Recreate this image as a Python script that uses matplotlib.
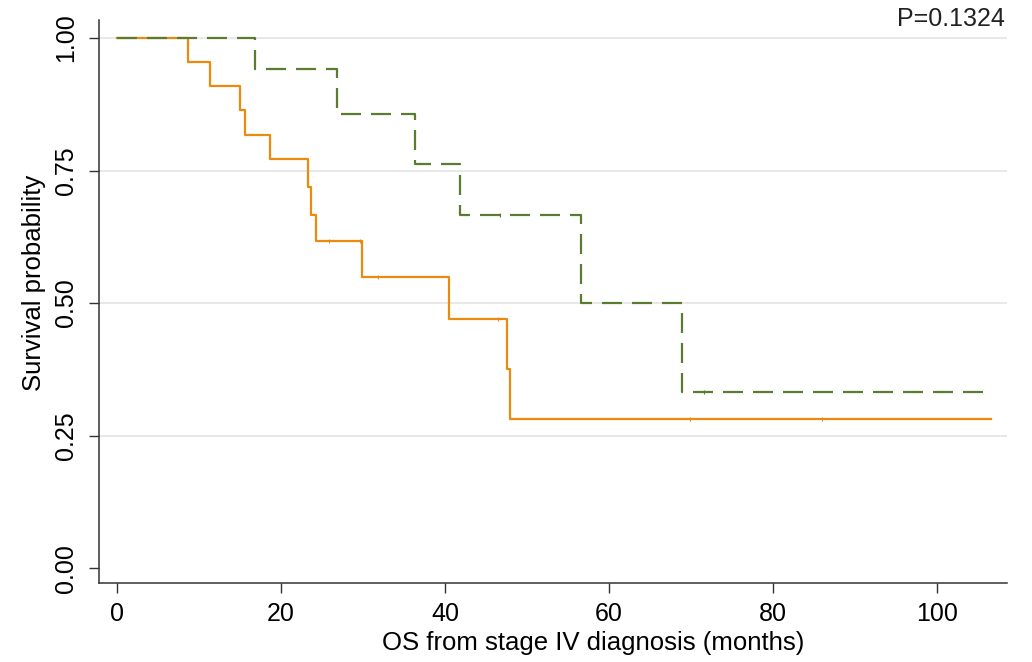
import matplotlib.pyplot as plt

# Kaplan-Meier step estimates, two groups
months_a = [0, 8.7, 11.3, 15.0, 15.6, 18.7, 23.3, 23.7, 24.3, 29.9, 40.5, 47.6, 47.9, 106.5]
surv_a = [1.0, 0.955, 0.909, 0.864, 0.818, 0.771, 0.719, 0.667, 0.617, 0.549, 0.470, 0.376, 0.282, 0.282]
cens_a_t = [25.8, 29.6, 31.8, 46.5, 69.9, 86.0]
cens_a_s = [0.617, 0.617, 0.549, 0.470, 0.282, 0.282]

months_b = [0, 16.8, 26.8, 36.3, 41.8, 56.6, 68.9, 105.9]
surv_b = [1.0, 0.941, 0.857, 0.762, 0.667, 0.500, 0.333, 0.333]
cens_b_t = [46.7, 71.5]
cens_b_s = [0.667, 0.333]

p_text = "P=0.1324"
yticks = [0.0, 0.25, 0.5, 0.75, 1.0]
ytick_labels = ["0.00", "0.25", "0.50", "0.75", "1.00"]
xticks = [0, 20, 40, 60, 80, 100]

orange = "#EA8A0E"
green = "#5B7B2F"

plt.rcParams['font.family'] = ['Liberation Sans', 'DejaVu Sans']

fig = plt.figure(figsize=(10.32, 6.62), dpi=100)
ax = fig.add_axes([99 / 1032, 1 - 583 / 662, (1007 - 99) / 1032, (583 - 20) / 662])

for y in yticks[1:]:
    ax.axhline(y, color="#E6E6E6", lw=1.3, zorder=0)

ax.plot(months_a, surv_a, drawstyle="steps-post", color=orange, lw=1.6, zorder=2)
ax.plot(cens_a_t, cens_a_s, ls="none", marker="|", ms=3, mew=0.8, color=orange, zorder=2)
ax.plot(months_b, surv_b, drawstyle="steps-post", color=green, lw=1.6,
        dashes=(9, 4.5), zorder=3)
ax.plot(cens_b_t, cens_b_s, ls="none", marker="|", ms=3, mew=0.8, color=green, zorder=3)

ax.set_xlim(-2.2, 108.5)
ax.set_ylim(-0.028, 1.034)
ax.set_xticks(xticks)
ax.set_yticks(yticks)
ax.set_yticklabels(ytick_labels, rotation=90, va="center")
ax.tick_params(axis="both", direction="out", length=7, width=1, color="#333333",
               labelsize=18)
ax.tick_params(axis="x", pad=7)
ax.tick_params(axis="y", pad=8)

for side in ["top", "right"]:
    ax.spines[side].set_visible(False)
for side in ["left", "bottom"]:
    ax.spines[side].set_color("#333333")
    ax.spines[side].set_linewidth(1.1)

ax.set_xlabel("OS from stage IV diagnosis (months)", fontsize=18.5, labelpad=9)
ax.set_ylabel("Survival probability", fontsize=18.5, labelpad=6)
ax.xaxis.set_label_coords(0.544, -0.085)
ax.yaxis.set_label_coords(-0.058, 0.533)
ax.text(108.3, 1.023, p_text, ha="right", va="baseline", fontsize=18, color="#222222")

fig.savefig("out.png", dpi=100)
